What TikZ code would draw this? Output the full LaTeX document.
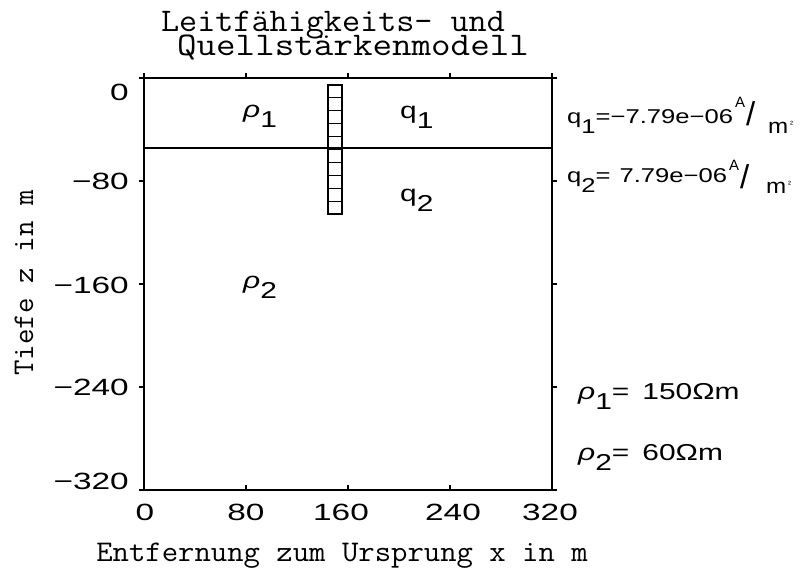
\documentclass[tikz,border=0pt]{standalone}
\usepackage{fontspec}
\newfontfamily\hs{Liberation Sans}
\newfontfamily\hm{Latin Modern Mono}
\newcommand{\lowsub}[1]{\raisebox{-10pt}{#1}}
\newcommand{\sx}[1]{\scalebox{1.3}[1]{#1}}
\newcommand{\tx}[1]{\scalebox{1.42}[1]{#1}}
\tikzset{
  frame/.style={line width=1.5pt},
  layerline/.style={line width=1.1pt},
  cellbox/.style={line width=1.1pt},
  tickmark/.style={line width=1.3pt},
  ticklab/.style={inner sep=0pt, font=\hs\fontsize{23.5}{23.5}\selectfont},
  axlab/.style={inner sep=0pt, font=\hm\fontsize{30}{30}\selectfont, anchor=base},
  titlab/.style={inner sep=0pt, font=\hm\fontsize{33}{33}\selectfont, anchor=base},
  reglab/.style={inner sep=0pt, font=\hs\fontsize{23}{23}\selectfont, anchor=base west},
  qleg/.style={inner sep=0pt, font=\hs\fontsize{20}{20}\selectfont, anchor=base west},
  rleg/.style={inner sep=0pt, font=\hs\fontsize{23}{23}\selectfont, anchor=base west},
  unitA/.style={inner sep=0pt, font=\hs\fontsize{15}{15}\selectfont, anchor=base west},
  unitS/.style={inner sep=0pt, font=\hs\fontsize{33}{33}\selectfont, anchor=base west},
  unitM/.style={inner sep=0pt, font=\hs\fontsize{21}{21}\selectfont, anchor=base west},
  unitD/.style={inner sep=0pt, font=\hs\fontsize{9}{9}\selectfont, anchor=base west},
}
\begin{document}
\begin{tikzpicture}[x=1pt,y=-1pt]
\path[fill=white] (0,0) rectangle (803,571);
\useasboundingbox (0,0) rectangle (803,571);

% title
\node[titlab] (t1) at (333,31) {\scalebox{1.065}[1]{Leitfähigkeits- und}};
\node[titlab] (t2) at (353,55) {\scalebox{1.15}[1]{Quellstärkenmodell}};

% frame
\draw[frame] (144,78) rectangle (552,490);
% layer boundary
\draw[layerline] (144,148) -- (552,148);
% source column
\foreach \i in {0,...,9}
  \draw[cellbox] (328,{85+12.9*\i}) rectangle (342,{85+12.9*(\i+1)});

% ticks
\foreach \yy in {78,181,284,387,490} {
  \draw[tickmark] (139,\yy) -- (144,\yy);
  \draw[tickmark] (552,\yy) -- (557,\yy);
}
\foreach \xx in {144,246,348,450,552} {
  \draw[tickmark] (\xx,490) -- (\xx,485);
  \draw[tickmark] (\xx,78) -- (\xx,73);
}

% y tick labels
\node[ticklab, anchor=east] (y0) at (129,92) {\tx{0}};
\node[ticklab, anchor=east] (y1) at (129,181) {\tx{−80}};
\node[ticklab, anchor=east] (y2) at (129,285) {\tx{−160}};
\node[ticklab, anchor=east] (y3) at (129,387) {\tx{−240}};
\node[ticklab, anchor=east] (y4) at (129,481) {\tx{−320}};
% x tick labels
\node[ticklab] (x0) at (145,512) {\tx{0}};
\node[ticklab] (x1) at (246,512) {\tx{80}};
\node[ticklab] (x2) at (341,512) {\tx{160}};
\node[ticklab] (x3) at (453,512) {\tx{240}};
\node[ticklab] (x4) at (550,512) {\tx{320}};

% axis labels
\node[axlab] (xl) at (342,561) {\scalebox{1.06}[1]{Entfernung zum Ursprung x in m}};
\node[axlab, rotate=90] (yl) at (33,283) {Tiefe z in m};

% region labels
\node[reglab] (r1) at (243,117) {\sx{\textit{ρ}\lowsub{1}}};
\node[reglab] (q1) at (400,118) {\sx{q\lowsub{1}}};
\node[reglab] (q2) at (400,201) {\sx{q\lowsub{2}}};
\node[reglab] (r2) at (243,288) {\sx{\textit{ρ}\lowsub{2}}};

% legend: source strengths
\node[qleg] (lq1) at (567,123) {\scalebox{1.28}[1]{q\lowsub{1}=−7.79e−06}};
\node[unitA] (lq1a) at (735,107) {A};
\node[unitS] (lq1s) at (746,125) {/};
\node[unitM] (lq1m) at (768,133) {\scalebox{1.15}[1]{m}};
\node[unitD] (lq1d) at (790,127) {²};
\node[qleg] (lq2) at (567,182) {\scalebox{1.28}[1]{q\lowsub{2}=\hspace{7pt}7.79e−06}};
\node[unitA] (lq2a) at (729,170) {A};
\node[unitS] (lq2s) at (740,188) {/};
\node[unitM] (lq2m) at (766,193) {\scalebox{1.15}[1]{m}};
\node[unitD] (lq2d) at (788,187) {²};
% legend: resistivities
\node[rleg] (lr1) at (578,399) {\sx{\textit{ρ}\lowsub{1}=\hspace{10pt}150Ωm}};
\node[rleg] (lr2) at (578,460) {\sx{\textit{ρ}\lowsub{2}=\hspace{10pt}60Ωm}};
\end{tikzpicture}
\end{document}
